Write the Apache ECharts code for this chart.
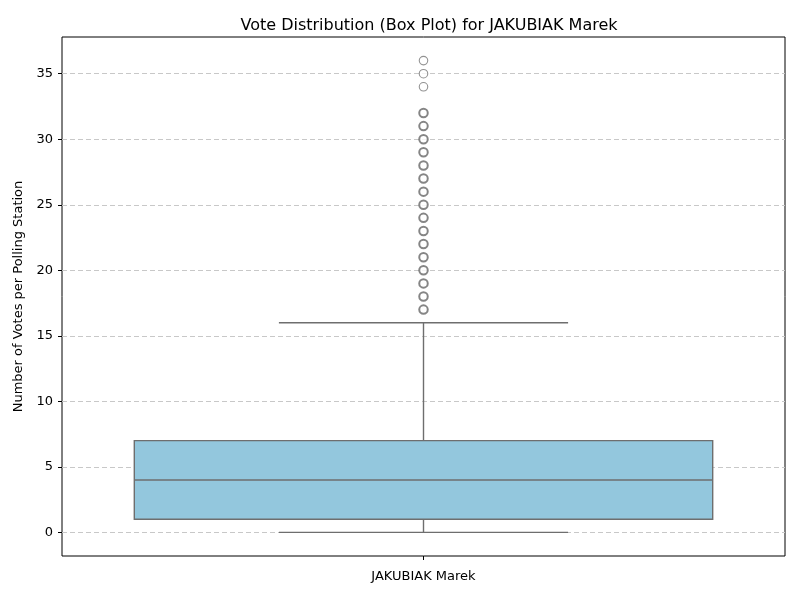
<!DOCTYPE html>
<html>
<head>
<meta charset="utf-8">
<script src="https://cdn.jsdelivr.net/npm/echarts@6/dist/echarts.min.js"></script>
<style>
  html, body { margin: 0; padding: 0; background: #fff; }
  #chart { width: 800px; height: 600px; }
</style>
</head>
<body>
<div id="chart"></div>
<script>
const categories = ['JAKUBIAK Marek'];
// [min whisker, Q1, median, Q3, max whisker]
const boxStats = [[0, 1, 4, 7, 16]];
// outlier values and how many stations share each (approximate, darker = more)
const outlierValues = [17, 18, 19, 20, 21, 22, 23, 24, 25, 26, 27, 28, 29, 30, 31, 32, 34, 35, 36];
const outlierCounts = [5, 5, 4, 4, 4, 4, 3, 3, 3, 3, 3, 2, 2, 2, 2, 2, 1, 1, 1];
const yTicks = [0, 5, 10, 15, 20, 25, 30, 35];

const lineColor = '#6e6e6e';
const chart = echarts.init(document.getElementById('chart'));

const boxData = boxStats.map((s, i) => [i].concat(s));
const outlierData = outlierValues.map((v, i) => ({
    value: [0, v],
    itemStyle: { borderWidth: outlierCounts[i] > 1 ? 2 : 1.1, borderColor: outlierCounts[i] > 1 ? '#666' : '#777' }
}));

chart.setOption({
    animation: false,
    title: {
        text: 'Vote Distribution (Box Plot) for JAKUBIAK Marek',
        left: 424,
        textAlign: 'center',
        top: 13,
        textStyle: { fontFamily: 'DejaVu Sans', fontSize: 16, fontWeight: 'normal', color: '#000' }
    },
    grid: {
        left: 62, right: 15, top: 37, bottom: 44,
        show: true, borderColor: '#000', borderWidth: 1, backgroundColor: 'transparent'
    },
    xAxis: {
        type: 'category',
        data: categories,
        boundaryGap: true,
        axisLine: { show: false, onZero: false },
        axisTick: { show: true, alignWithLabel: true, length: 4, lineStyle: { color: '#000' } },
        axisLabel: { fontFamily: 'DejaVu Sans', fontSize: 13, color: '#000', margin: 14 },
        splitLine: { show: false }
    },
    yAxis: {
        type: 'value',
        min: -1.8,
        max: 37.8,
        name: 'Number of Votes per Polling Station',
        nameLocation: 'middle',
        nameGap: 36,
        nameTextStyle: { fontFamily: 'DejaVu Sans', fontSize: 13, color: '#000' },
        axisLine: { show: false },
        axisTick: { show: true, length: 4, customValues: yTicks, lineStyle: { color: '#000' } },
        axisLabel: { fontFamily: 'DejaVu Sans', fontSize: 13, color: '#000', margin: 9, customValues: yTicks },
        splitLine: { show: false }
    },
    series: [
        {
            type: 'line',
            data: [],
            silent: true,
            z: 1,
            markLine: {
                silent: true,
                z: 1,
                symbol: 'none',
                label: { show: false },
                lineStyle: { color: '#c8c8c8', type: [5, 3], width: 1 },
                data: yTicks.map(v => ({ yAxis: v }))
            }
        },
        {
            type: 'custom',
            data: boxData,
            z: 3,
            renderItem: function (params, api) {
                const x = api.value(0);
                const band = api.size([1, 0])[0];
                const half = band * 0.4;
                const capHalf = half / 2;
                const pMin = api.coord([x, api.value(1)]);
                const pQ1 = api.coord([x, api.value(2)]);
                const pMed = api.coord([x, api.value(3)]);
                const pQ3 = api.coord([x, api.value(4)]);
                const pMax = api.coord([x, api.value(5)]);
                const cx = pMed[0];
                const ls = { stroke: lineColor, lineWidth: 1.4 };
                return {
                    type: 'group',
                    children: [
                        { type: 'line', shape: { x1: cx, y1: pQ1[1], x2: cx, y2: pMin[1] }, style: ls },
                        { type: 'line', shape: { x1: cx, y1: pQ3[1], x2: cx, y2: pMax[1] }, style: ls },
                        { type: 'line', shape: { x1: cx - capHalf, y1: pMin[1], x2: cx + capHalf, y2: pMin[1] }, style: ls },
                        { type: 'line', shape: { x1: cx - capHalf, y1: pMax[1], x2: cx + capHalf, y2: pMax[1] }, style: ls },
                        {
                            type: 'rect',
                            shape: { x: cx - half, y: pQ3[1], width: half * 2, height: pQ1[1] - pQ3[1] },
                            style: { fill: '#93c7dd', stroke: lineColor, lineWidth: 1.4 }
                        },
                        { type: 'line', shape: { x1: cx - half, y1: pMed[1], x2: cx + half, y2: pMed[1] }, style: ls }
                    ]
                };
            }
        },
        {
            type: 'scatter',
            data: outlierData,
            symbol: 'circle',
            symbolSize: 8.5,
            z: 4,
            itemStyle: { color: '#fff', borderColor: lineColor, borderWidth: 1 }
        }
    ]
});
</script>
</body>
</html>
